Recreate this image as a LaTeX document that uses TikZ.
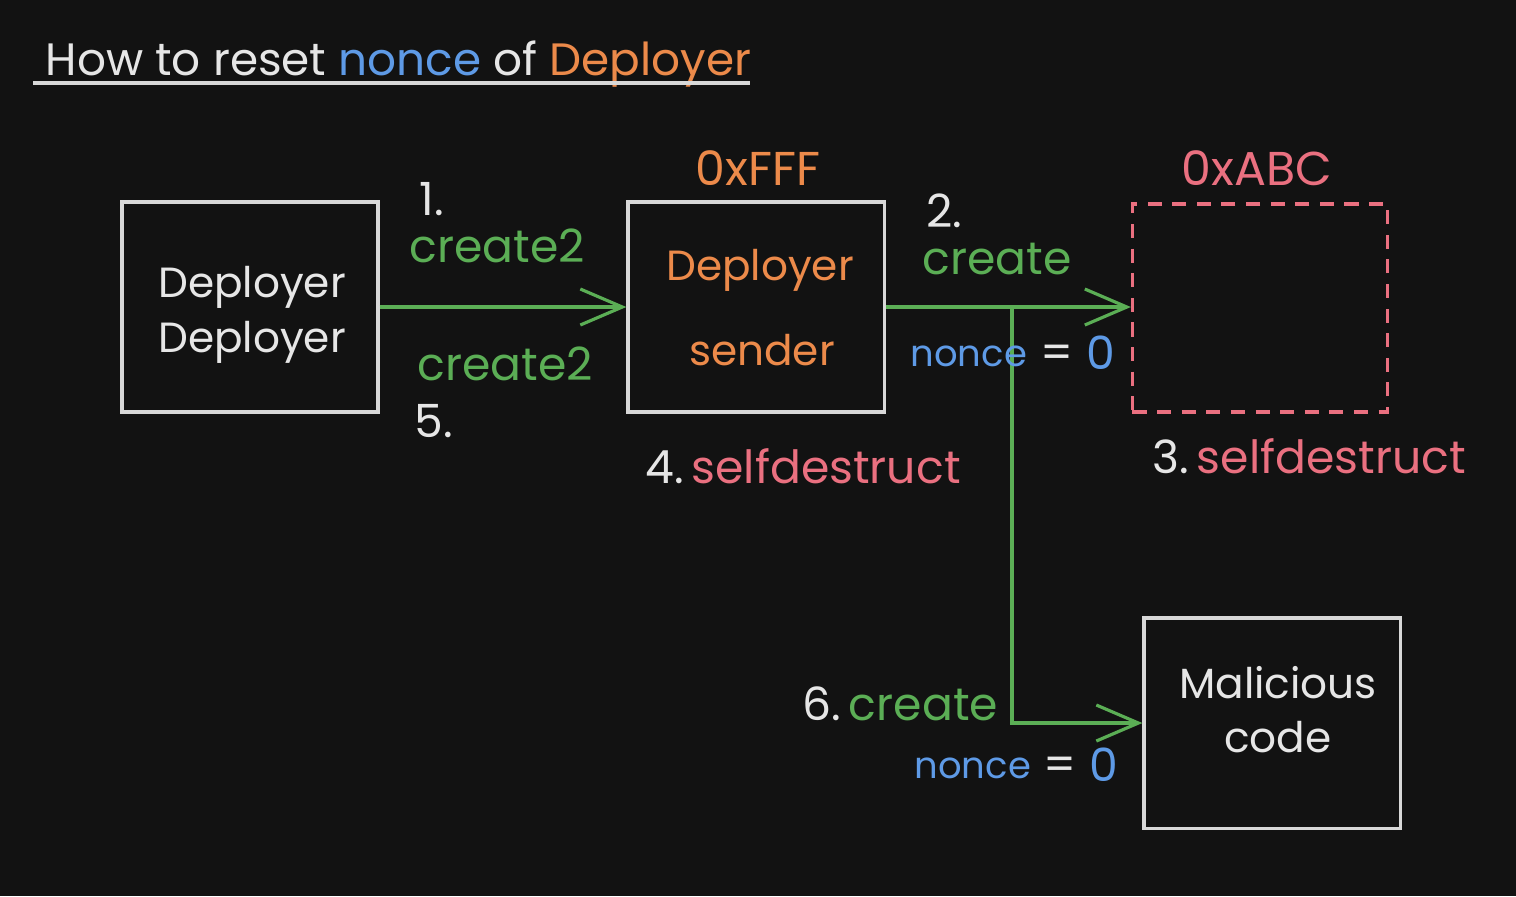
\documentclass[tikz,border=0pt]{standalone}
\usepackage{fontspec}
\setmainfont{Poppins}
\usetikzlibrary{arrows.meta}
\definecolor{bg}{HTML}{121212}
\definecolor{edge}{HTML}{D8D8D8}
\definecolor{grn}{HTML}{5BAE55}
\definecolor{org}{HTML}{EC8A4A}
\definecolor{blu}{HTML}{5E9AE6}
\definecolor{rd}{HTML}{EA7080}
\definecolor{wht}{HTML}{E6E6E6}
\tikzset{
  box/.style={draw=edge, line width=0.9pt, minimum width=2.56cm, minimum height=2.1cm, inner sep=0pt},
  dbox/.style={draw=rd, line width=0.9pt, dash pattern=on 4pt off 3pt, minimum width=2.55cm, minimum height=2.08cm, inner sep=0pt},
  conn/.style={draw=grn, line width=0.9pt, -{Straight Barb[length=0.42cm, width=0.36cm, line width=0.9pt]}},
  lbl/.style={anchor=base, inner sep=0pt, font=\fontsize{13}{15}\selectfont},
  nlbl/.style={anchor=base west, inner sep=0pt, font=\fontsize{10.5}{12}\selectfont},
  boxtxt/.style={anchor=base, inner sep=0pt, font=\fontsize{12}{14}\selectfont},
  addr/.style={anchor=base, inner sep=0pt, font=\fontsize{13.5}{15}\selectfont},
}
\begin{document}
\begin{tikzpicture}[x=0.01cm, y=-0.01cm]
\fill[bg] (0,0) rectangle (1516,896);
\useasboundingbox (0,0) rectangle (1516,896);
% title
\node[lbl, anchor=base west, font=\fontsize{12.9}{15}\selectfont] (title) at (45,75) {\textcolor{wht}{How to reset} \textcolor{blu}{nonce} \textcolor{wht}{of} \textcolor{org}{Deployer}};
\draw[draw=edge, line width=0.9pt] (33,83) -- (750,83);
% boxes
\node[box] (A) at (250,307) {};
\node[box] (B) at (756,307) {};
\node[dbox] (C) at (1260,308) {};
\node[box] (D) at (1272,723) {};
% box texts
\node[boxtxt, text=wht] (a1) at (252,297) {Deployer};
\node[boxtxt, text=wht] (a2) at (252,352) {Deployer};
\node[boxtxt, text=org] (b1) at (760,280) {Deployer};
\node[boxtxt, text=org] (b2) at (762,365) {sender};
\node[boxtxt, text=wht] (d1) at (1278,698) {Malicious};
\node[boxtxt, text=wht] (d2) at (1278,752) {code};
% addresses
\node[addr, text=org] (addrB) at (758,185) {0xFFF};
\node[addr, text=rd] (addrC) at (1257,185) {0xABC};
% connectors
\draw[conn] (A.east) -- (B.west);
\coordinate (j) at (1012,307);
\draw[conn] (B.east) -- (B.east -| C.west);
\draw[conn] (j) |- (D.west);
% labels
\node[lbl, text=wht] (n1) at (432,215) {1.};
\node[lbl, text=grn] (c1) at (497,262) {create2};
\node[lbl, text=grn] (c5) at (505,380) {create2};
\node[lbl, text=wht] (n5) at (434,437) {5.};
\node[lbl, text=wht] (n2) at (944,227) {2.};
\node[lbl, text=grn] (c2) at (997,274) {create};
\node[nlbl, text=blu] (nonce1) at (910,366) {nonce};
\node[lbl, text=wht] (eq1) at (1057,368) {=};
\node[lbl, text=blu] (z1) at (1101,369) {0};
\node[lbl, anchor=base west] (sd4) at (645,483) {\textcolor{wht}{4.}\,\textcolor{rd}{selfdestruct}};
\node[lbl, anchor=base west] (sd3) at (1152,473) {\textcolor{wht}{3.}\,\textcolor{rd}{selfdestruct}};
\node[lbl, anchor=base west] (c6) at (802,720) {\textcolor{wht}{6.}\,\textcolor{grn}{create}};
\node[nlbl, text=blu] (nonce2) at (914,778) {nonce};
\node[lbl, text=wht] (eq2) at (1060,780) {=};
\node[lbl, text=blu] (z2) at (1104,781) {0};
\end{tikzpicture}
\end{document}
